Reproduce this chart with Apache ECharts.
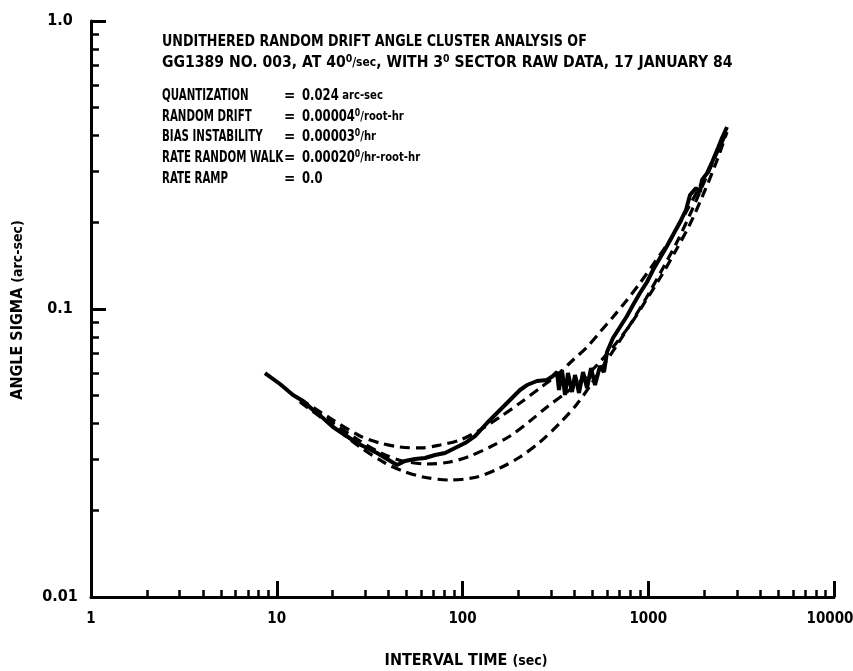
<!DOCTYPE html>
<html>
<head>
<meta charset="utf-8">
<script src="https://cdn.jsdelivr.net/npm/echarts@6/dist/echarts.min.js"></script>
<style>
  html, body { margin: 0; padding: 0; background: #fff; }
  #chart { width: 853px; height: 671px; }
</style>
</head>
<body>
<div id="chart"></div>
<script>
// measured angle sigma, [interval time (sec), sigma (arc-sec)]
const measured = [
  [8.64, 0.05994], [10.41, 0.05490], [12.23, 0.05028], [13.85, 0.04793], [15.67, 0.04461],
  [17.74, 0.04182], [20.08, 0.03894], [23.31, 0.03652], [27.04, 0.03425], [30.61, 0.03292],
  [34.65, 0.03162], [39.23, 0.03014], [44.41, 0.02873], [49.03, 0.02966], [55.50, 0.03014],
  [62.83, 0.03038], [71.12, 0.03112], [80.52, 0.03162], [91.14, 0.03292], [103.2, 0.03425],
  [116.8, 0.03622], [135.5, 0.04020], [149.6, 0.04284], [169.4, 0.04642], [187.0, 0.04948],
  [204.0, 0.05233], [222.4, 0.05446], [251.8, 0.05623], [285.1, 0.05669], [307.0, 0.05854],
  [322.7, 0.06041], [330.7, 0.05233], [343.3, 0.06139], [356.3, 0.05028], [369.8, 0.05994],
  [388.6, 0.05150], [403.4, 0.05900], [423.9, 0.05109], [445.4, 0.06041], [468.1, 0.05317],
  [491.9, 0.06238], [516.9, 0.05446], [549.9, 0.06338], [577.9, 0.06041], [599.7, 0.07090],
  [646.0, 0.07929], [704.6, 0.08660], [768.5, 0.09456], [827.8, 0.1032], [902.8, 0.1136],
  [984.7, 0.1241], [1061, 0.1366], [1157, 0.1503], [1262, 0.1655], [1359, 0.1806],
  [1483, 0.2004], [1597, 0.2207], [1678, 0.2488], [1808, 0.2630], [1899, 0.2548],
  [1947, 0.2805], [2097, 0.2990], [2231, 0.3292], [2374, 0.3622], [2495, 0.3925],
  [2654, 0.4284]
];

// dashed model curves
const fitUpper = [
  [13.34, 0.04870], [19.35, 0.04182], [28.07, 0.03622], [35.96, 0.03425], [46.09, 0.03317],
  [59.04, 0.03292], [75.66, 0.03370], [96.94, 0.03508], [124.3, 0.03801], [159.2, 0.04217],
  [204.0, 0.04716], [261.4, 0.05317], [322.7, 0.05900], [393.4, 0.06650], [468.1, 0.07380],
  [549.9, 0.08318], [646.0, 0.09380], [768.5, 0.1075], [902.8, 0.1231], [1087, 0.1456],
  [1310, 0.1736], [1577, 0.2138], [1899, 0.2674], [2259, 0.3344], [2654, 0.4183]
];
const fitMiddle = [
  [13.34, 0.04793], [19.35, 0.04084], [28.07, 0.03480], [37.33, 0.03137], [47.84, 0.02966],
  [64.41, 0.02896], [85.63, 0.02943], [109.7, 0.03087], [140.6, 0.03317], [180.2, 0.03622],
  [230.9, 0.04084], [285.1, 0.04568], [365.2, 0.05150], [445.4, 0.05714], [529.9, 0.06390],
  [646.0, 0.07380], [797.7, 0.08799], [960.5, 0.1058], [1157, 0.1281], [1393, 0.1577],
  [1678, 0.1973], [1971, 0.2488], [2316, 0.3213], [2654, 0.4117]
];
const fitLower = [
  [13.34, 0.04754], [19.35, 0.03987], [28.07, 0.03317], [38.27, 0.02919], [47.84, 0.02738],
  [61.28, 0.02610], [85.63, 0.02548], [119.7, 0.02610], [159.2, 0.02805], [204.0, 0.03062],
  [261.4, 0.03452], [334.9, 0.04020], [413.5, 0.04678], [485.8, 0.05402], [570.7, 0.06338],
  [678.9, 0.07499], [827.8, 0.09158], [997.0, 0.1119], [1201, 0.1388], [1446, 0.1736],
  [1720, 0.2207], [2021, 0.2805], [2345, 0.3480], [2654, 0.4117]
];

const xTickValues = [1, 10, 100, 1000, 10000];
const xTickLabels = ['1', '10', '100', '1000', '{last|10000}'];
const yTickValues = [0.01, 0.1, 1];
const yTickLabels = ['0.01', '0.1', '1.0'];
const minorMults = [2, 3, 4, 5, 6, 7, 8, 9];

const paramNames = ['QUANTIZATION', 'RANDOM DRIFT', 'BIAS INSTABILITY', 'RATE RANDOM WALK', 'RATE RAMP'];
const paramValues = [
  '{b|0.024}{u| arc-sec}',
  '{b|0.00004}{s|0}{u|/root-hr}',
  '{b|0.00003}{s|0}{u|/hr}',
  '{b|0.00020}{s|0}{u|/hr-root-hr}',
  '{b|0.0}'
];

const FONT = "'Liberation Sans Narrow', 'DejaVu Sans Condensed', 'Liberation Sans', sans-serif";
const INK = '#000';

function decadeLabel(values, labels) {
  return (v) => {
    const i = values.findIndex((t) => Math.abs(Math.log10(t) - Math.log10(v)) < 1e-6);
    return i >= 0 ? labels[i] : '';
  };
}

// minor tick positions in log10 space, drawn on hidden linear axes
function minorTicks(fromExp, toExp) {
  const out = [];
  for (let e = fromExp; e < toExp; e++) {
    minorMults.forEach((m) => out.push(Math.log10(m) + e));
  }
  return out;
}

function makeRich(size, unitSize) {
  return {
    b: { fontFamily: FONT, fontWeight: 'bold', fontSize: size, lineHeight: size + 3, color: INK },
    s: { fontFamily: FONT, fontWeight: 'bold', fontSize: 10, lineHeight: 10, verticalAlign: 'top', color: INK },
    u: { fontFamily: FONT, fontWeight: 'bold', fontSize: unitSize, lineHeight: size + 3, color: INK }
  };
}

function textEl(x, y, text, opts) {
  opts = opts || {};
  return {
    type: 'text',
    x: x,
    y: y,
    rotation: opts.rotation || 0,
    scaleX: opts.scaleX || 1,
    style: {
      text: text,
      fontFamily: FONT,
      fontWeight: 'bold',
      fontSize: 15,
      fill: INK,
      align: opts.align || 'left',
      verticalAlign: 'middle',
      rich: makeRich(opts.size || 15, opts.unitSize || 11.5)
    }
  };
}

const graphics = [
  textEl(162, 42, '{b|UNDITHERED RANDOM DRIFT ANGLE CLUSTER ANALYSIS OF}', { scaleX: 0.94 }),
  textEl(162, 63, '{b|GG1389 NO. 003, AT 40}{s|0}{u|/sec}{b|, WITH 3}{s|0}{b| SECTOR RAW DATA, 17 JANUARY 84}', { scaleX: 1.04 })
];
const rowY = [96, 117, 137, 158, 179];
paramNames.forEach((name, i) => {
  graphics.push(textEl(162, rowY[i], '{b|' + name + '}', { scaleX: 0.76 }));
  graphics.push(textEl(284, rowY[i], '{b|=}'));
  graphics.push(textEl(302, rowY[i], paramValues[i], { scaleX: 0.86, unitSize: 13 }));
});
graphics.push(textEl(466, 661, '{b|INTERVAL TIME }{u|(sec)}', { align: 'center', size: 16, unitSize: 14 }));
graphics.push(textEl(18, 310, '{b|ANGLE SIGMA }{u|(arc-sec)}', {
  rotation: Math.PI / 2, align: 'center', size: 16, unitSize: 14
}));

const chart = echarts.init(document.getElementById('chart'), null, { renderer: 'canvas' });

const labelStyle = { color: INK, fontFamily: FONT, fontWeight: 'bold', fontSize: 15 };

chart.setOption({
  animation: false,
  backgroundColor: '#fff',
  grid: { left: 91, right: 19, top: 21, bottom: 74, containLabel: false, outerBoundsMode: 'none' },
  xAxis: [
    {
      type: 'log', logBase: 10, min: 1, max: 10000, position: 'bottom',
      axisLine: { onZero: false, lineStyle: { color: INK, width: 3 } },
      axisTick: { inside: true, length: 16, lineStyle: { color: INK, width: 3 } },
      axisLabel: Object.assign({
        margin: 15,
        formatter: decadeLabel(xTickValues, xTickLabels),
        rich: { last: { fontFamily: FONT, fontWeight: 'bold', fontSize: 15, color: INK, padding: [0, 8, 0, 0] } }
      }, labelStyle),
      splitLine: { show: false }
    },
    {
      type: 'value', min: 0, max: 4, position: 'bottom',
      axisLine: { show: false, onZero: false },
      axisLabel: { show: false },
      splitLine: { show: false },
      axisTick: { show: true, inside: true, length: 7, customValues: minorTicks(0, 4), lineStyle: { color: INK, width: 2.5 } }
    }
  ],
  yAxis: [
    {
      type: 'log', logBase: 10, min: 0.01, max: 1, position: 'left',
      axisLine: { onZero: false, lineStyle: { color: INK, width: 3 } },
      axisTick: { inside: true, length: 15, lineStyle: { color: INK, width: 3 } },
      axisLabel: Object.assign({ margin: 31, align: 'center', formatter: decadeLabel(yTickValues, yTickLabels) }, labelStyle, { fontSize: 16 }),
      splitLine: { show: false }
    },
    {
      type: 'value', min: -2, max: 0, position: 'left',
      axisLine: { show: false, onZero: false },
      axisLabel: { show: false },
      splitLine: { show: false },
      axisTick: { show: true, inside: true, length: 8, customValues: minorTicks(-2, 0), lineStyle: { color: INK, width: 2.5 } }
    }
  ],
  series: [
    { type: 'line', data: fitUpper, showSymbol: false, smooth: 0.3, z: 2,
      lineStyle: { color: INK, width: 3.2, type: [10, 6] } },
    { type: 'line', data: fitMiddle, showSymbol: false, smooth: 0.3, z: 2,
      lineStyle: { color: INK, width: 3.2, type: [10, 6] } },
    { type: 'line', data: fitLower, showSymbol: false, smooth: 0.3, z: 2,
      lineStyle: { color: INK, width: 3.2, type: [10, 6] } },
    { type: 'line', data: measured, showSymbol: false, z: 3,
      lineStyle: { color: INK, width: 4 } }
  ],
  graphic: graphics
});
</script>
</body>
</html>
